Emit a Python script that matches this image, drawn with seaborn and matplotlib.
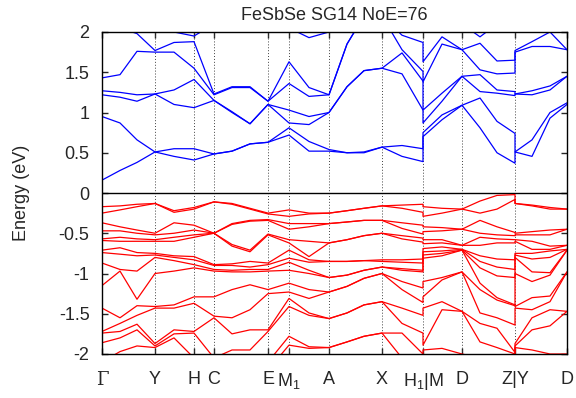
import numpy as np
import pandas as pd
import matplotlib
matplotlib.use("Agg")
import matplotlib.pyplot as plt
import seaborn as sns

# k-path (arbitrary length units), repeated k at the two path breaks
k_path = [0, 18, 35, 53, 72, 92, 112, 130, 148, 166, 187, 207, 227, 245, 262,
          280, 300, 321, 321, 340, 360, 378, 395, 413, 413, 430, 448, 465]
k_nodes = [0, 53, 92, 112, 166, 187, 227, 280, 321, 360, 413, 465]
node_labels = ["Γ", "Y", "H", "C", "E", "M$_1$", "A", "X", "H$_1$|M", "D", "Z|Y", "D"]

# conduction bands (eV), one row per k point, bands sorted by energy
cb_energy = [
    [0.16, 0.95, 1.22, 1.27, 1.43, 2.10, 2.20, 2.40],
    [0.28, 0.87, 1.19, 1.25, 1.47, 2.05, 2.20, 2.40],
    [0.38, 0.66, 1.14, 1.22, 1.76, 1.98, 2.20, 2.40],
    [0.51, 0.51, 1.23, 1.23, 1.75, 1.77, 2.20, 2.40],
    [0.455, 0.55, 1.10, 1.28, 1.75, 1.87, 2.00, 2.30],
    [0.41, 0.55, 1.06, 1.41, 1.55, 1.88, 1.95, 2.30],
    [0.485, 0.485, 1.15, 1.15, 1.22, 1.23, 2.10, 2.30],
    [0.52, 0.52, 1.00, 1.01, 1.31, 1.32, 2.10, 2.30],
    [0.61, 0.61, 0.86, 0.86, 1.31, 1.32, 2.10, 2.30],
    [0.63, 0.63, 1.10, 1.10, 1.14, 1.14, 2.10, 2.30],
    [0.72, 0.81, 0.87, 1.03, 1.36, 1.63, 2.05, 2.30],
    [0.52, 0.64, 0.85, 0.95, 1.20, 1.31, 1.93, 2.30],
    [0.52, 0.54, 1.00, 1.00, 1.22, 1.22, 2.00, 2.30],
    [0.50, 0.50, 1.32, 1.32, 1.85, 1.85, 2.20, 2.40],
    [0.50, 0.51, 1.52, 1.52, 2.20, 2.20, 2.40, 2.50],
    [0.57, 0.57, 1.55, 1.55, 2.20, 2.20, 2.40, 2.50],
    [0.455, 0.59, 1.48, 1.74, 1.78, 1.96, 2.20, 2.40],
    [0.39, 0.55, 1.03, 1.39, 1.51, 1.87, 2.20, 2.40],
    [0.70, 0.75, 0.87, 1.03, 1.38, 1.63, 2.20, 2.40],
    [0.91, 0.97, 1.14, 1.24, 1.85, 1.94, 2.20, 2.40],
    [1.09, 1.09, 1.45, 1.45, 1.78, 1.78, 2.10, 2.40],
    [0.81, 1.18, 1.26, 1.47, 1.53, 1.86, 1.94, 2.40],
    [0.50, 0.89, 1.24, 1.28, 1.48, 1.64, 2.10, 2.40],
    [0.37, 0.74, 1.21, 1.26, 1.49, 1.65, 2.20, 2.40],
    [0.51, 0.51, 1.23, 1.23, 1.75, 1.77, 2.20, 2.40],
    [0.455, 0.66, 1.22, 1.27, 1.82, 1.88, 2.20, 2.40],
    [0.93, 1.00, 1.28, 1.33, 1.82, 2.00, 2.20, 2.40],
    [1.10, 1.12, 1.45, 1.45, 1.78, 1.78, 2.20, 2.40],
]

# valence bands (eV)
vb_energy = [
    [-0.17, -0.25, -0.37, -0.47, -0.57, -0.59, -0.71, -0.74, -0.87, -1.15, -1.43, -1.72, -1.74, -1.86, -2.10, -2.20],
    [-0.16, -0.21, -0.42, -0.47, -0.55, -0.60, -0.68, -0.76, -0.95, -0.97, -1.55, -1.62, -1.72, -1.80, -1.97, -2.10],
    [-0.14, -0.17, -0.46, -0.50, -0.57, -0.60, -0.74, -0.78, -0.97, -1.32, -1.40, -1.52, -1.63, -1.70, -1.90, -2.05],
    [-0.13, -0.13, -0.50, -0.52, -0.58, -0.60, -0.75, -0.77, -0.80, -1.00, -1.41, -1.43, -1.87, -1.90, -1.92, -2.05],
    [-0.22, -0.24, -0.37, -0.50, -0.55, -0.60, -0.78, -0.80, -0.84, -0.97, -1.39, -1.43, -1.70, -1.75, -1.80, -2.05],
    [-0.18, -0.20, -0.40, -0.46, -0.52, -0.55, -0.79, -0.83, -0.89, -0.93, -1.29, -1.37, -1.72, -1.74, -2.05, -2.10],
    [-0.11, -0.11, -0.50, -0.50, -0.50, -0.50, -0.89, -0.90, -0.95, -0.97, -1.29, -1.53, -1.55, -2.05, -2.10, -2.20],
    [-0.13, -0.14, -0.38, -0.39, -0.64, -0.66, -0.88, -0.90, -0.96, -0.98, -1.20, -1.55, -1.75, -1.95, -2.10, -2.20],
    [-0.19, -0.20, -0.34, -0.35, -0.71, -0.73, -0.85, -0.92, -0.95, -0.98, -1.14, -1.45, -1.70, -1.95, -2.10, -2.20],
    [-0.25, -0.26, -0.33, -0.34, -0.51, -0.52, -0.87, -0.89, -0.95, -0.97, -1.20, -1.25, -1.70, -1.72, -2.10, -2.20],
    [-0.21, -0.29, -0.38, -0.45, -0.58, -0.62, -0.71, -0.81, -0.86, -0.96, -1.12, -1.23, -1.31, -1.41, -1.78, -1.89],
    [-0.25, -0.26, -0.38, -0.42, -0.60, -0.79, -0.83, -0.86, -0.96, -1.00, -1.20, -1.31, -1.49, -1.52, -1.91, -1.93],
    [-0.25, -0.25, -0.38, -0.38, -0.62, -0.62, -0.85, -0.85, -1.05, -1.05, -1.23, -1.23, -1.56, -1.56, -1.92, -1.92],
    [-0.22, -0.22, -0.36, -0.36, -0.58, -0.58, -0.85, -0.85, -1.02, -1.02, -1.16, -1.16, -1.49, -1.49, -1.85, -1.85],
    [-0.19, -0.19, -0.34, -0.34, -0.53, -0.53, -0.84, -0.84, -0.96, -0.96, -1.06, -1.06, -1.39, -1.39, -1.78, -1.78],
    [-0.16, -0.16, -0.34, -0.34, -0.50, -0.50, -0.83, -0.85, -0.92, -0.92, -1.00, -1.00, -1.35, -1.35, -1.74, -1.74],
    [-0.15, -0.19, -0.37, -0.44, -0.53, -0.57, -0.83, -0.86, -0.94, -0.96, -1.10, -1.20, -1.43, -1.62, -1.74, -2.05],
    [-0.14, -0.24, -0.40, -0.51, -0.56, -0.61, -0.82, -0.87, -0.96, -0.98, -1.18, -1.36, -1.52, -1.74, -2.00, -2.10],
    [-0.17, -0.29, -0.42, -0.48, -0.58, -0.63, -0.69, -0.73, -0.77, -0.81, -1.10, -1.29, -1.43, -1.89, -1.95, -2.05],
    [-0.19, -0.25, -0.43, -0.47, -0.58, -0.62, -0.67, -0.72, -0.75, -0.78, -1.05, -1.08, -1.35, -1.45, -1.93, -2.05],
    [-0.20, -0.20, -0.45, -0.45, -0.65, -0.65, -0.70, -0.70, -0.71, -0.71, -0.98, -0.98, -1.47, -1.47, -2.00, -2.05],
    [-0.10, -0.25, -0.34, -0.50, -0.55, -0.65, -0.78, -0.85, -0.93, -1.12, -1.20, -1.49, -1.62, -1.85, -2.05, -2.10],
    [-0.03, -0.20, -0.42, -0.52, -0.57, -0.62, -0.82, -0.92, -1.03, -1.30, -1.33, -1.55, -1.68, -1.92, -2.05, -2.10],
    [-0.02, -0.08, -0.49, -0.53, -0.58, -0.62, -0.83, -0.95, -1.05, -1.39, -1.40, -1.64, -1.98, -2.00, -2.05, -2.10],
    [-0.13, -0.13, -0.50, -0.52, -0.58, -0.60, -0.75, -0.77, -0.80, -1.00, -1.41, -1.43, -1.87, -1.90, -1.92, -2.05],
    [-0.15, -0.16, -0.48, -0.52, -0.60, -0.70, -0.75, -0.82, -0.98, -1.10, -1.30, -1.45, -1.55, -1.70, -1.95, -2.05],
    [-0.18, -0.20, -0.46, -0.52, -0.66, -0.70, -0.72, -0.80, -0.99, -1.02, -1.28, -1.35, -1.45, -1.65, -2.00, -2.05],
    [-0.20, -0.20, -0.45, -0.45, -0.65, -0.65, -0.70, -0.70, -0.71, -0.71, -0.98, -0.98, -1.47, -1.47, -2.00, -2.05],
]

y_ticks = [-2, -1.5, -1, -0.5, 0, 0.5, 1, 1.5, 2]
y_ticklabels = ["-2", "-1.5", "-1", "-0.5", "0", "0.5", "1", "1.5", "2"]


def to_long(table, kind):
    arr = np.array(table)
    rows = []
    for b in range(arr.shape[1]):
        for i, k in enumerate(k_path):
            rows.append({"k": k, "E": arr[i, b], "band": f"{kind}{b}"})
    return pd.DataFrame(rows)


df_cb = to_long(cb_energy, "c")
df_vb = to_long(vb_energy, "v")

sns.set_style("ticks")
plt.rcParams["font.family"] = ["Liberation Sans", "DejaVu Sans"]
plt.rcParams["mathtext.default"] = "regular"

fig = plt.figure(figsize=(5.76, 3.98), dpi=100)
ax = fig.add_axes([102 / 576, 1 - 354 / 398, 465 / 576, 322 / 398])

# dotted high-symmetry lines
for k in k_nodes[1:-1]:
    ax.axvline(k, color="0.25", lw=0.7, ls=(0, (1, 2)), zorder=1)
ax.axhline(0, color="black", lw=1.0, zorder=1)

sns.lineplot(data=df_cb, x="k", y="E", units="band", estimator=None, sort=False,
             color="#0000ff", lw=0.9, legend=False, ax=ax, zorder=2)
sns.lineplot(data=df_vb, x="k", y="E", units="band", estimator=None, sort=False,
             color="#ff0000", lw=0.9, legend=False, ax=ax, zorder=2)

ax.set_xlim(k_nodes[0], k_nodes[-1])
ax.set_ylim(-2, 2)
ax.set_yticks(y_ticks)
ax.set_yticklabels(y_ticklabels)
ax.set_xticks(k_nodes)
ax.set_xticklabels(node_labels)
for lab in ax.get_xticklabels():
    if lab.get_text() == "Γ":
        lab.set_fontfamily("DejaVu Serif")
        lab.set_fontsize(15)

ax.tick_params(axis="both", direction="in", length=4, width=1, labelsize=13,
               top=True, right=True)
ax.tick_params(axis="x", pad=12)
ax.tick_params(axis="y", pad=9)
for s in ax.spines.values():
    s.set_linewidth(1.0)
    s.set_color("black")

ax.set_xlabel("")
ax.set_ylabel("Energy (eV)", fontsize=13)
ax.yaxis.set_label_coords(-0.155, 0.5)
ax.set_title("FeSbSe SG14 NoE=76", fontsize=13, pad=9)

fig.savefig("out.png", dpi=100)
